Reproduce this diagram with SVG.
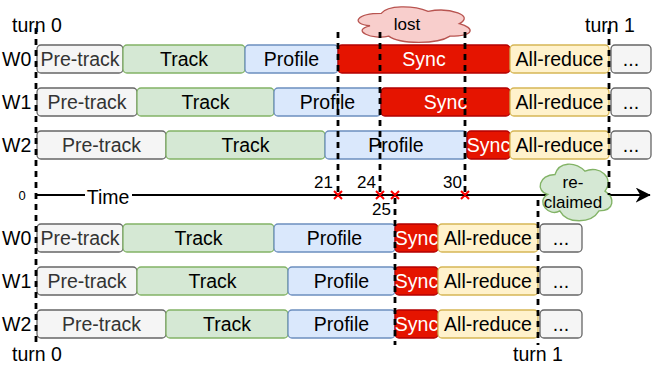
<svg xmlns="http://www.w3.org/2000/svg" width="652" height="370" viewBox="0 0 652 370">
<defs>
<style>
text{font-family:"Liberation Sans",Arial,sans-serif;font-size:19.5px;fill:#000}
.c{text-anchor:middle}
.pt rect{fill:#f5f5f5;stroke:#666666}
.pt text{fill:#333333}
.tr rect{fill:#d5e8d4;stroke:#82b366}
.pr rect{fill:#dae8fc;stroke:#6c8ebf}
.sy rect{fill:#e51400;stroke:#b20000}
.sy text{fill:#ffffff}
.ar rect{fill:#fff2cc;stroke:#d6b656}
.dd rect{fill:#f5f5f5;stroke:#666666}
rect{stroke-width:1.3}
.dash{stroke:#000;stroke-width:2.8;stroke-dasharray:6 5;fill:none}
.num{font-size:17px}
.xm{stroke:#ff0000;stroke-width:2}
</style>
<marker id="arr" viewBox="0 0 10 10" refX="9.5" refY="5" markerWidth="15" markerHeight="15" markerUnits="userSpaceOnUse" orient="auto">
<path d="M0,0 L10,5 L0,10 L3,5 Z" fill="#000"/>
</marker>
</defs>
<rect width="652" height="370" fill="#fff" stroke="none"/>

<g id="cloud-lost">
<path transform="translate(350,3) scale(1.087,1.12) translate(-355,-7)" d="M383.75,16.25 C360.75,16.25 355,25.5 373.4,27.35 C355,31.42 375.7,40.3 390.65,36.6 C401,44 435.5,44 447,36.6 C470,36.6 470,29.2 455.6,25.5 C470,18.1 447,10.7 426.9,14.4 C412.5,8.85 389.5,8.85 383.75,16.25 Z" fill="#f8cecc" stroke="#b85450" stroke-width="1.2"/>
<text class="c" x="407" y="30" style="font-size:17px">lost</text>
</g>

<g id="connectors">
<line x1="36" y1="195" x2="650" y2="195" stroke="#000" stroke-width="2" marker-end="url(#arr)"/>
</g>

<g id="cloud-reclaimed">
<path transform="translate(535,158) scale(1.127,1.16) translate(-540,-163)" d="M557.75,177.25 C543.55,177.25 540,191.5 551.36,194.35 C540,200.62 552.78,214.3 562.01,208.6 C568.4,220 589.7,220 596.8,208.6 C611,208.6 611,197.2 602.1,191.5 C611,180.1 596.8,168.7 584.4,174.4 C575.5,165.85 561.3,165.85 557.75,177.25 Z" fill="#d5e8d4" stroke="#82b366" stroke-width="1.2"/>
<text class="c" x="573" y="188" style="font-size:17px">re-</text>
<text class="c" x="573" y="208" style="font-size:17px">claimed</text>
</g>

<g id="time-label">
<rect x="85" y="186" width="47" height="20" fill="#fff" stroke="none"/>
<text class="c" x="108" y="204">Time</text>
<text x="22" y="200" class="c" style="font-size:13px">0</text>
</g>

<g id="top-w0">
<text x="2" y="66">W0</text>
<g class="pt"><rect x="37" y="45" width="86" height="28" rx="4"/><text class="c" x="80" y="66">Pre-track</text></g>
<g class="tr"><rect x="123" y="45" width="122" height="28" rx="4"/><text class="c" x="184" y="66">Track</text></g>
<g class="pr"><rect x="245" y="45" width="93" height="28" rx="4"/><text class="c" x="291.5" y="66">Profile</text></g>
<g class="sy"><rect x="338" y="45" width="172" height="28" rx="4"/><text class="c" x="424" y="66">Sync</text></g>
<g class="ar"><rect x="510" y="45" width="99" height="28" rx="4"/><text class="c" x="559.5" y="66">All-reduce</text></g>
<g class="dd"><rect x="611" y="45" width="40" height="28" rx="4"/><text class="c" x="631" y="66">...</text></g>
</g>
<g id="top-w1">
<text x="2" y="109">W1</text>
<g class="pt"><rect x="37" y="88" width="100" height="28" rx="4"/><text class="c" x="87" y="109">Pre-track</text></g>
<g class="tr"><rect x="137" y="88" width="137" height="28" rx="4"/><text class="c" x="205.5" y="109">Track</text></g>
<g class="pr"><rect x="274" y="88" width="107" height="28" rx="4"/><text class="c" x="327.5" y="109">Profile</text></g>
<g class="sy"><rect x="381" y="88" width="129" height="28" rx="4"/><text class="c" x="445.5" y="109">Sync</text></g>
<g class="ar"><rect x="510" y="88" width="99" height="28" rx="4"/><text class="c" x="559.5" y="109">All-reduce</text></g>
<g class="dd"><rect x="611" y="88" width="40" height="28" rx="4"/><text class="c" x="631" y="109">...</text></g>
</g>
<g id="top-w2">
<text x="2" y="152">W2</text>
<g class="pt"><rect x="37" y="131" width="129" height="28" rx="4"/><text class="c" x="101.5" y="152">Pre-track</text></g>
<g class="tr"><rect x="166" y="131" width="159" height="28" rx="4"/><text class="c" x="245.5" y="152">Track</text></g>
<g class="pr"><rect x="325" y="131" width="142" height="28" rx="4"/><text class="c" x="396" y="152">Profile</text></g>
<g class="sy"><rect x="467" y="131" width="43" height="28" rx="4"/><text class="c" x="488.5" y="152">Sync</text></g>
<g class="ar"><rect x="510" y="131" width="99" height="28" rx="4"/><text class="c" x="559.5" y="152">All-reduce</text></g>
<g class="dd"><rect x="611" y="131" width="40" height="28" rx="4"/><text class="c" x="631" y="152">...</text></g>
</g>

<g id="bot-w0">
<text x="2" y="245">W0</text>
<g class="pt"><rect x="37" y="224" width="86" height="28" rx="4"/><text class="c" x="80" y="245">Pre-track</text></g>
<g class="tr"><rect x="123" y="224" width="151" height="28" rx="4"/><text class="c" x="198.5" y="245">Track</text></g>
<g class="pr"><rect x="274" y="224" width="121" height="28" rx="4"/><text class="c" x="334.5" y="245">Profile</text></g>
<g class="sy"><rect x="395" y="224" width="43" height="28" rx="4"/><text class="c" x="416.5" y="245">Sync</text></g>
<g class="ar"><rect x="438" y="224" width="100" height="28" rx="4"/><text class="c" x="488" y="245">All-reduce</text></g>
<g class="dd"><rect x="540" y="224" width="42" height="28" rx="4"/><text class="c" x="561" y="245">...</text></g>
</g>
<g id="bot-w1">
<text x="2" y="288">W1</text>
<g class="pt"><rect x="37" y="267" width="100" height="28" rx="4"/><text class="c" x="87" y="288">Pre-track</text></g>
<g class="tr"><rect x="137" y="267" width="151" height="28" rx="4"/><text class="c" x="212.5" y="288">Track</text></g>
<g class="pr"><rect x="288" y="267" width="107" height="28" rx="4"/><text class="c" x="341.5" y="288">Profile</text></g>
<g class="sy"><rect x="395" y="267" width="43" height="28" rx="4"/><text class="c" x="416.5" y="288">Sync</text></g>
<g class="ar"><rect x="438" y="267" width="100" height="28" rx="4"/><text class="c" x="488" y="288">All-reduce</text></g>
<g class="dd"><rect x="540" y="267" width="42" height="28" rx="4"/><text class="c" x="561" y="288">...</text></g>
</g>
<g id="bot-w2">
<text x="2" y="331">W2</text>
<g class="pt"><rect x="37" y="310" width="129" height="28" rx="4"/><text class="c" x="101.5" y="331">Pre-track</text></g>
<g class="tr"><rect x="166" y="310" width="122" height="28" rx="4"/><text class="c" x="227" y="331">Track</text></g>
<g class="pr"><rect x="288" y="310" width="107" height="28" rx="4"/><text class="c" x="341.5" y="331">Profile</text></g>
<g class="sy"><rect x="395" y="310" width="43" height="28" rx="4"/><text class="c" x="416.5" y="331">Sync</text></g>
<g class="ar"><rect x="438" y="310" width="100" height="28" rx="4"/><text class="c" x="488" y="331">All-reduce</text></g>
<g class="dd"><rect x="540" y="310" width="42" height="28" rx="4"/><text class="c" x="561" y="331">...</text></g>
</g>

<g id="markers">
<line class="dash" x1="36" y1="28" x2="36" y2="345"/>
<line class="dash" x1="338" y1="32" x2="338" y2="196"/>
<line class="dash" x1="380" y1="32" x2="380" y2="196"/>
<line class="dash" x1="465" y1="32" x2="465" y2="196"/>
<line class="dash" x1="609" y1="28" x2="609" y2="195"/>
<line class="dash" x1="395" y1="198" x2="395" y2="345"/>
<line class="dash" x1="538" y1="200" x2="538" y2="345"/>
<path class="xm" d="M334,191 l8,8 M342,191 l-8,8 M376,191 l8,8 M384,191 l-8,8 M391,191 l8,8 M399,191 l-8,8 M461,191 l8,8 M469,191 l-8,8"/>
<text class="num" x="333" y="188" text-anchor="end">21</text>
<text class="num" x="376" y="188" text-anchor="end">24</text>
<text class="num" x="462" y="188" text-anchor="end">30</text>
<text class="num" x="391" y="215" text-anchor="end">25</text>
</g>

<g id="turn-labels">
<text x="12" y="32">turn 0</text>
<text x="585" y="32">turn 1</text>
<text x="12" y="361">turn 0</text>
<text x="513" y="361">turn 1</text>
</g>
</svg>
